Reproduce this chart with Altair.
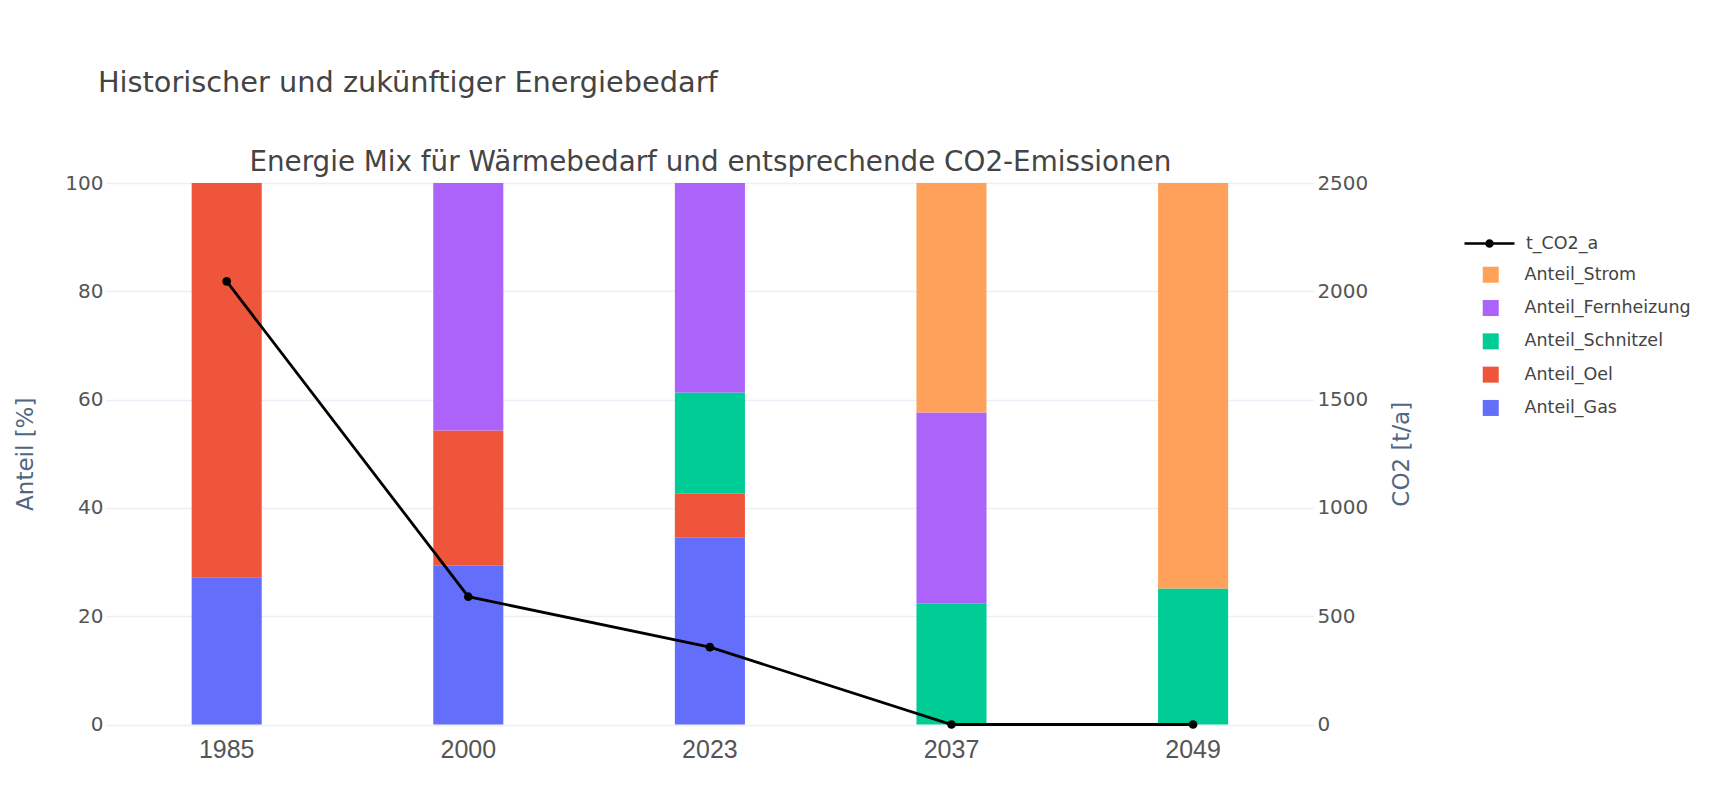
import altair as alt
import pandas as pd

# ---- data ----
jahre = ["1985", "2000", "2023", "2037", "2049"]
anteil_gas = [27.2, 29.3, 34.6, 0, 0]
anteil_oel = [72.8, 25.0, 8.0, 0, 0]
anteil_schnitzel = [0, 0, 18.7, 22.4, 25.1]
anteil_fernheizung = [0, 45.7, 38.7, 35.2, 0]
anteil_strom = [0, 0, 0, 42.4, 74.9]
t_co2_a = [2046, 590, 357, 0, 0]

serien = ["Anteil_Strom", "Anteil_Fernheizung", "Anteil_Schnitzel", "Anteil_Oel", "Anteil_Gas"]
farben = ["#FFA15A", "#AB63FA", "#00CC96", "#EF553B", "#636EFA"]
stapel_rang = {"Anteil_Gas": 0, "Anteil_Oel": 1, "Anteil_Schnitzel": 2,
               "Anteil_Fernheizung": 3, "Anteil_Strom": 4}
werte = {
    "Anteil_Gas": anteil_gas,
    "Anteil_Oel": anteil_oel,
    "Anteil_Schnitzel": anteil_schnitzel,
    "Anteil_Fernheizung": anteil_fernheizung,
    "Anteil_Strom": anteil_strom,
}

rows = []
for name, vals in werte.items():
    for j, v in zip(jahre, vals):
        rows.append({"Jahr": j, "Serie": name, "Anteil": v, "Rang": stapel_rang[name]})
df_bars = pd.DataFrame(rows)
df_line = pd.DataFrame({"Jahr": jahre, "CO2": t_co2_a, "Serie": ["t_CO2_a"] * len(jahre)})

FONT = "DejaVu Sans"
XFONT = "Liberation Sans"
PLOT_LEFT = 105.9
PLOT_TOP = 183
LINE_SYMBOL = "M-1,0L1,0M-0.12,0A0.12,0.12,0,1,1,0.12,0A0.12,0.12,0,1,1,-0.12,0Z"

bars = alt.Chart(df_bars).mark_bar().encode(
    x=alt.X("Jahr:N", sort=jahre,
            scale=alt.Scale(paddingInner=0.71, paddingOuter=0.355),
            axis=alt.Axis(title=None, labelAngle=0, labelFont=XFONT, labelFontSize=25,
                          labelColor="#555555", ticks=False, tickSize=0, domain=False,
                          labelPadding=13, grid=False)),
    y=alt.Y("Anteil:Q", stack="zero",
            scale=alt.Scale(domain=[0, 100], nice=False),
            axis=alt.Axis(title="Anteil [%]", values=[0, 20, 40, 60, 80, 100],
                          labelFont=FONT, labelFontSize=20, labelColor="#555555",
                          titleFont=FONT, titleFontSize=23, titleFontWeight="normal",
                          titleColor="#506784", titlePadding=27,
                          ticks=False, tickSize=0, domain=False, labelPadding=3,
                          grid=True, gridColor="#EBF0F8", gridWidth=1.5)),
    color=alt.Color("Serie:N", scale=alt.Scale(domain=serien, range=farben),
                    legend=alt.Legend(title=None, orient="none",
                                      legendX=1482 - PLOT_LEFT, legendY=275 - PLOT_TOP - 9,
                                      symbolType="square", symbolSize=256,
                                      symbolStrokeWidth=0, labelFont=FONT,
                                      labelFontSize=17.5, labelColor="#444444",
                                      labelLimit=400,
                                      labelOffset=25, rowPadding=14.3, padding=0)),
    order=alt.Order("Rang:Q", sort="ascending"),
)

line = alt.Chart(df_line).mark_line(
    strokeWidth=2.8,
    point=alt.OverlayMarkDef(filled=True, size=75),
).encode(
    x=alt.X("Jahr:N", sort=jahre,
            axis=alt.Axis(orient="top",
                          title="Energie Mix für Wärmebedarf und entsprechende CO2-Emissionen",
                          labels=False, ticks=False, domain=False, grid=False,
                          titleFont=FONT, titleFontSize=27.8, titleFontWeight="normal",
                          titleColor="#444444", titlePadding=7)),
    y=alt.Y("CO2:Q", scale=alt.Scale(domain=[0, 2500], nice=False),
            axis=alt.Axis(orient="right", title="CO2 [t/a]", format="d",
                          values=[0, 500, 1000, 1500, 2000, 2500],
                          labelFont=FONT, labelFontSize=20, labelColor="#555555",
                          titleFont=FONT, titleFontSize=23, titleFontWeight="normal",
                          titleColor="#506784", titlePadding=46, titleAngle=270,
                          ticks=False, tickSize=0, domain=False, labelPadding=3,
                          grid=False)),
    color=alt.Color("Serie:N", scale=alt.Scale(domain=["t_CO2_a"], range=["#000000"]),
                    legend=alt.Legend(title=None, orient="none",
                                      legendX=1463 - PLOT_LEFT, legendY=242 - PLOT_TOP - 25,
                                      symbolType=LINE_SYMBOL, symbolSize=2500,
                                      symbolStrokeWidth=2.5, symbolFillColor="#000000",
                                      symbolStrokeColor="#000000", labelFont=FONT,
                                      labelFontSize=17.5, labelColor="#444444",
                                      labelOffset=10, padding=0)),
)

chart = alt.layer(bars, line).resolve_scale(
    y="independent", color="independent"
).resolve_axis(
    x="independent"
).properties(
    width=1208,
    height=541.5,
    padding={"left": PLOT_LEFT - 8, "top": PLOT_TOP - 8, "right": 394, "bottom": 50},
    autosize=alt.AutoSizeParams(type="none"),
    background="white",
    title=alt.TitleParams("Historischer und zukünftiger Energiebedarf",
                          anchor="start", frame="group", dx=-8, offset=50, fontSize=28.8,
                          font=FONT, fontWeight="normal", color="#444444"),
).configure_view(stroke=None)

chart.save("out.html", embed_options={"renderer": "svg", "actions": False})
